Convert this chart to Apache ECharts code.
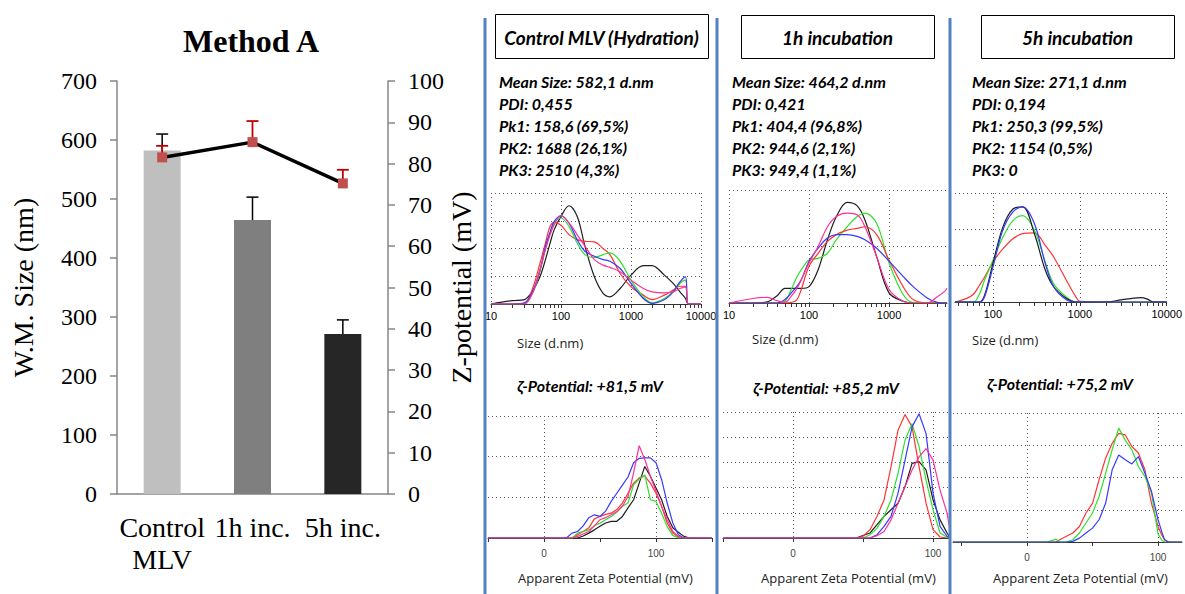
<!DOCTYPE html>
<html><head><meta charset="utf-8">
<script src="https://cdn.jsdelivr.net/npm/echarts@6/dist/echarts.min.js"></script>
<style>html,body{margin:0;padding:0;background:#fff}#c{width:1185px;height:594px}</style>
</head><body><div id="c"></div>
<script>
// ---------------- DATA ----------------
const categories = ['Control\nMLV', '1h inc.', '5h inc.'];
const sizeMean = [582.1, 464.2, 271.1];
const sizeErr = [28, 39, 24];
const zetaMean = [81.5, 85.2, 75.2];
const zetaErr = [2.8, 5.1, 3.3];
const barColors = ['#bfbfbf', '#7f7f7f', '#262626'];

const panelTitles = ['Control MLV (Hydration)', '1h incubation', '5h incubation'];
const stats1 = ['Mean Size: 582,1 d.nm', 'PDI: 0,455', 'Pk1: 158,6 (69,5%)', 'PK2: 1688 (26,1%)', 'PK3: 2510 (4,3%)'];
const stats2 = ['Mean Size: 464,2 d.nm', 'PDI: 0,421', 'Pk1: 404,4 (96,8%)', 'PK2: 944,6 (2,1%)', 'PK3: 949,4 (1,1%)'];
const stats3 = ['Mean Size: 271,1 d.nm', 'PDI: 0,194', 'Pk1: 250,3 (99,5%)', 'PK2: 1154 (0,5%)', 'PK3: 0'];
const zetaTitles = ['ζ-Potential: +81,5 mV', 'ζ-Potential: +85,2 mV', 'ζ-Potential: +75,2 mV'];
const sizeAxisName = 'Size (d.nm)';
const zetaAxisName = 'Apparent Zeta Potential (mV)';

// Size distributions (intensity, arbitrary units) - panel 1
const p1Sizes = [10, 20, 30, 40, 50, 60, 70, 80, 100, 130, 170, 220, 300, 400, 500, 700, 1000, 1500, 2000, 3000, 4000, 5000, 6000, 6600, 10000];
const p1Black = [0, 0.6, 0.8, 2.5, 4.9, 8, 11, 13.4, 15.8, 17.7, 15.8, 10.4, 4.9, 1.9, 1.3, 2.8, 5.2, 6.9, 6.9, 5.2, 3.7, 2.2, 1.0, 0, 0];
const p1Red   = [0, 0, 0.1, 3.1, 7.3, 11, 14, 14.7, 14.2, 12.5, 11.6, 11.3, 11.2, 10, 8.9, 5.5, 3.1, 1.6, 0.8, 1.6, 2.5, 3.2, 3.2, 0, 0];
const p1Green = [0, 0, 0.1, 2.2, 5.8, 10, 12.8, 14.6, 15.5, 14, 11, 8.9, 8.4, 8.9, 9.2, 7.7, 4.3, 1.3, 0.2, 1, 2.2, 3.7, 4.3, 0, 0];
const p1Blue  = [0, 0, 0.2, 2.5, 6.1, 10.4, 13, 14.9, 15.9, 14.6, 11.6, 9.5, 8.6, 8, 7.7, 6.4, 3.7, 1, 0.1, 0.8, 2.2, 4, 4.9, 0, 0];
const p1Pink  = [0, 0, 0, 2.2, 6.1, 9.8, 12.5, 14.3, 15.9, 14.6, 12.5, 10.4, 8, 7, 6.6, 5.8, 4.3, 2.8, 2.2, 2, 2.2, 2.8, 3.1, 0, 0];

// panel 2
const p2Sizes = [10, 20, 30, 40, 50, 60, 70, 80, 100, 130, 170, 220, 300, 400, 500, 700, 1000, 1500, 2000, 3000, 4000, 5000, 5300];
const p2Black = [0, 0, 0.2, 1.3, 2.6, 2.6, 2.6, 2.6, 2.9, 5.9, 11.2, 15.3, 17.8, 17.2, 14.7, 8.2, 1.8, 0.3, 0, 0, 0, 0, 0];
const p2Green = [0, 0, 0, 0, 0.3, 2.4, 4.5, 5.9, 7.6, 7.9, 8.8, 11.2, 13.5, 15.3, 15.9, 14.1, 7.1, 1.5, 0.1, 0, 0, 0, 0];
const p2Red   = [0, 0, 0, 0, 0, 0.1, 0.5, 2.4, 6.5, 8.8, 10.9, 12.1, 12.9, 13.2, 13.5, 12.1, 7.6, 2.9, 0.6, 0, 0, 0, 0];
const p2Blue  = [0, 0, 0, 0, 0.6, 1.8, 2.9, 4.1, 7.4, 9.7, 11.5, 12.1, 12.1, 11.8, 11.2, 9.7, 7.4, 4.7, 2.9, 0.9, 0.1, 0, 0];
const p2Pink  = [0, 0.8, 1.0, 0.4, 0.1, 1.2, 2.5, 4.1, 7.1, 10, 13.5, 15.3, 15.9, 15.6, 13.5, 8.2, 2.4, 0.3, 0, 0, 1.1, 2.1, 2.6];

// panel 3
const p3Sizes = [36.6, 50, 60, 70, 80, 100, 130, 170, 220, 300, 400, 500, 700, 900, 1000, 2000, 3000, 4000, 5000, 6000, 7000, 10000];
const p3Red   = [0, 0.5, 1.1, 2.3, 3.4, 5.5, 7.3, 8.7, 9.4, 9.5, 7.8, 6.2, 3.0, 0.7, 0.1, 0, 0, 0, 0, 0, 0, 0];
const p3Green = [0, 0, 0, 1.1, 3, 5.7, 8.9, 11.2, 11.9, 9.9, 5.5, 2.5, 0.7, 0, 0, 0, 0, 0, 0, 0, 0, 0];
const p3Black = [0, 0, 0, 0, 0.9, 5.3, 10.3, 12.8, 13.1, 9.4, 4.4, 2.1, 0.5, 0, 0, 0, 0.3, 0.5, 0.6, 0.4, 0, 0];
const p3Blue  = [0, 0, 0, 0, 0.7, 4.8, 9.9, 12.4, 13.1, 10.8, 5.3, 2.1, 0.3, 0, 0, 0, 0, 0, 0, 0, 0, 0];

// Zeta potential distributions - panel 1
const z1Mv    = [-50, 15, 20, 25, 30, 35, 40, 45, 50, 55, 60, 65, 70, 75, 80, 85, 90, 95, 100, 105, 110, 115, 120, 125, 130, 135, 150];
const z1Black = [0, 0, 0, 0, 0, 0.05, 0.12, 0.2, 0.29, 0.37, 0.41, 0.41, 0.53, 0.74, 0.94, 1.35, 1.76, 1.52, 1.23, 0.94, 0.53, 0.25, 0.14, 0.04, 0, 0, 0];
const z1Red   = [0, 0, 0, 0, 0.08, 0.16, 0.25, 0.47, 0.53, 0.58, 0.61, 0.7, 0.86, 1.1, 1.35, 1.48, 1.52, 1.35, 1.1, 0.78, 0.37, 0.12, 0.02, 0, 0, 0, 0];
const z1Green = [0, 0, 0, 0, 0.12, 0.16, 0.2, 0.3, 0.37, 0.45, 0.53, 0.63, 0.78, 0.86, 1.31, 1.45, 1.55, 0.94, 0.9, 0.61, 0.28, 0.06, 0, 0, 0, 0, 0];
const z1Blue  = [0, 0, 0, 0.12, 0.16, 0.3, 0.5, 0.57, 0.53, 0.66, 0.9, 1.1, 1.3, 1.5, 1.85, 1.96, 1.97, 1.97, 1.85, 1.44, 0.86, 0.37, 0.08, 0, 0, 0, 0];
const z1Pink  = [0, 0, 0, 0, 0.04, 0.1, 0.16, 0.3, 0.45, 0.5, 0.57, 0.65, 0.78, 1.02, 1.6, 2.27, 1.93, 1.52, 1.15, 0.78, 0.45, 0.16, 0.04, 0, 0, 0, 0];

// panel 2
const z2Mv    = [-50, 40, 45, 50, 55, 60, 65, 70, 75, 80, 85, 90, 95, 100, 105, 110, 112.1];
const z2Black = [0, 0, 0, 0.1, 0.2, 0.53, 0.86, 1.12, 1.38, 2.04, 2.96, 3.03, 2.7, 1.51, 0.72, 0.2, 0];
const z2Red   = [0, 0, 0, 0.07, 0.33, 0.86, 1.51, 2.83, 4.28, 4.9, 4.41, 2.83, 1.38, 0.33, 0.04, 0, 0];
const z2Green = [0, 0, 0, 0, 0.13, 0.39, 0.86, 1.51, 2.57, 3.88, 4.54, 3.62, 2.3, 1.12, 0.2, 0.03, 0];
const z2Blue  = [0, 0, 0, 0, 0, 0.13, 0.46, 0.86, 1.78, 3.09, 4.41, 4.93, 4.14, 1.78, 0.46, 0.07, 0];
const z2Pink  = [0, 0, 0, 0, 0, 0.09, 0.26, 0.72, 1.38, 2.04, 2.7, 3.22, 3.55, 3.09, 1.9, 0.99, 0.3];

// panel 3
const z3Mv    = [-56.5, 15, 20, 22, 25, 30, 35, 40, 45, 50, 55, 60, 65, 70, 75, 80, 85, 90, 95, 100, 103, 105, 108, 118.3];
const z3Red   = [0, 0, 0, 0, 0.07, 0.18, 0.28, 0.48, 0.9, 1.2, 1.93, 2.6, 3.06, 3.37, 3.32, 2.96, 2.76, 2.24, 1.2, 0.48, 0.2, 0.07, 0, 0];
const z3Green = [0, 0, 0.06, 0.09, 0, 0, 0.07, 0.28, 0.59, 0.9, 1.41, 2.13, 2.86, 3.53, 3.16, 2.86, 2.34, 2.03, 1.52, 0.25, 0.05, 0, 0, 0];
const z3Blue  = [0, 0, 0, 0, 0, 0, 0.02, 0.12, 0.28, 0.43, 0.69, 1.2, 2.24, 2.7, 2.55, 2.42, 2.65, 2.13, 1.57, 0.69, 0.3, 0.07, 0, 0];

// ---------------- STYLE / LAYOUT ----------------
const C = { black: '#1e1e1e', red: '#ff3434', green: '#2fe02f', blue: '#3838ff', pink: '#ff2f98' };
const serif = 'Liberation Serif';
const dotted = { type: [1, 3], color: '#555', width: 1 };

function pairs(xs, ys) { return xs.map((x, i) => [x, ys[i]]); }
function logTicks(lo, hi) {
  const out = [];
  for (let e = 1; e <= 4; e++) for (let d = 1; d <= 9; d++) {
    const v = d * Math.pow(10, e); if (v >= lo - 1e-9 && v <= hi + 1e-9) out.push(v);
  }
  return out;
}

const xAxes = [], yAxes = [], grids = [], series = [];

// Left chart
grids.push({ left: 117, top: 81, width: 271, height: 413 });
xAxes.push({
  type: 'category', gridIndex: 0, data: categories,
  axisLine: { lineStyle: { color: '#868686', width: 1.5 } },
  axisTick: { show: false },
  axisLabel: { interval: 0, fontFamily: serif, fontSize: 28, lineHeight: 32, color: '#000', margin: 17 }
});
yAxes.push({
  type: 'value', gridIndex: 0, min: 0, max: 700, interval: 100, position: 'left',
  name: 'W.M. Size (nm)', nameLocation: 'middle', nameGap: 80,
  nameTextStyle: { fontFamily: serif, fontSize: 28, color: '#000' },
  axisLine: { show: true, lineStyle: { color: '#868686', width: 1.5 } },
  axisTick: { show: true, length: 7, lineStyle: { color: '#868686', width: 1.5 } },
  axisLabel: { fontFamily: serif, fontSize: 24, color: '#000', margin: 20 },
  splitLine: { show: false }
});
yAxes.push({
  type: 'value', gridIndex: 0, min: 0, max: 100, interval: 10, position: 'right',
  name: 'Z-potential (mV)', nameLocation: 'middle', nameGap: 49,
  nameTextStyle: { fontFamily: serif, fontSize: 28, color: '#000' },
  axisLine: { show: true, lineStyle: { color: '#868686', width: 1.5 } },
  axisTick: { show: true, length: 7, lineStyle: { color: '#868686', width: 1.5 } },
  axisLabel: { fontFamily: serif, fontSize: 24, color: '#000', margin: 20 },
  splitLine: { show: false }
});

function errRender(color, capW, lw) {
  return function (params, api) {
    const x = api.value(0), v = api.value(1), e = api.value(2);
    const p0 = api.coord([x, v]); const p1 = api.coord([x, v + e]);
    return { type: 'group', children: [
      { type: 'line', shape: { x1: p0[0], y1: p0[1], x2: p1[0], y2: p1[1] }, style: { stroke: color, lineWidth: lw } },
      { type: 'line', shape: { x1: p1[0] - capW / 2, y1: p1[1], x2: p1[0] + capW / 2, y2: p1[1] }, style: { stroke: color, lineWidth: lw } }
    ] };
  };
}

series.push({
  type: 'bar', xAxisIndex: 0, yAxisIndex: 0, barWidth: 37, z: 2,
  data: sizeMean.map((v, i) => ({ value: v, itemStyle: { color: barColors[i] } }))
});
series.push({
  type: 'custom', xAxisIndex: 0, yAxisIndex: 0, z: 3, renderItem: errRender('#000', 12, 1.5),
  encode: { x: 0, y: 1 }, data: categories.map((c, i) => [i, sizeMean[i], sizeErr[i]])
});
series.push({
  type: 'custom', xAxisIndex: 0, yAxisIndex: 1, z: 4, renderItem: errRender('#c00000', 12, 1.8),
  encode: { x: 0, y: 1 }, data: categories.map((c, i) => [i, zetaMean[i], zetaErr[i]])
});
series.push({
  type: 'line', xAxisIndex: 0, yAxisIndex: 1, z: 5, data: zetaMean,
  symbol: 'rect', symbolSize: 10, itemStyle: { color: '#c0504d' },
  lineStyle: { color: '#000', width: 3.5 }
});

// small panels
const sizePanels = [
  { grid: { left: 491, top: 193, width: 210, height: 111 }, min: 10, max: 10000, ymax: 20, yint: 5,
    sizes: p1Sizes, lines: [[p1Black, C.black], [p1Red, C.red], [p1Green, C.green], [p1Blue, C.blue], [p1Pink, C.pink]] },
  { grid: { left: 729, top: 190, width: 218, height: 113 }, min: 10, max: 5300, ymax: 20, yint: 10,
    sizes: p2Sizes, lines: [[p2Black, C.black], [p2Green, C.green], [p2Red, C.red], [p2Blue, C.blue], [p2Pink, C.pink]] },
  { grid: { left: 955, top: 193, width: 213, height: 109 }, min: 36.6, max: 10000, ymax: 15, yint: 5,
    sizes: p3Sizes, lines: [[p3Red, C.red], [p3Green, C.green], [p3Black, C.black], [p3Blue, C.blue]] }
];
const zetaPanels = [
  { grid: { left: 488, top: 416, width: 224, height: 122 }, min: -50, max: 150, ymax: 3, ticks: [-50, 0, 50, 100, 150],
    mv: z1Mv, lines: [[z1Black, C.black], [z1Red, C.red], [z1Green, C.green], [z1Blue, C.blue], [z1Pink, C.pink]] },
  { grid: { left: 723, top: 412, width: 227, height: 126 }, min: -50, max: 112.1, ymax: 5, ticks: [-50, 0, 50, 100],
    mv: z2Mv, lines: [[z2Black, C.black], [z2Red, C.red], [z2Green, C.green], [z2Blue, C.blue], [z2Pink, C.pink]] },
  { grid: { left: 953, top: 413, width: 229, height: 129 }, min: -56.5, max: 118.3, ymax: 4, ticks: [-50, 0, 50, 100],
    mv: z3Mv, lines: [[z3Red, C.red], [z3Green, C.green], [z3Blue, C.blue]] }
];

function addPanel(p, isLog) {
  const gi = grids.length;
  grids.push(p.grid);
  const xi = xAxes.length;
  const majors = isLog ? [10, 100, 1000, 10000].filter(v => v >= p.min && v <= p.max + 1) : [0, 100];
  xAxes.push({
    type: isLog ? 'log' : 'value', logBase: 10, gridIndex: gi, position: 'bottom', min: p.min, max: p.max,
    axisLine: { show: true, onZero: false, lineStyle: { color: '#333', width: 1 } },
    axisTick: { show: false, customValues: majors },
    axisLabel: {
      customValues: majors, margin: isLog ? 6 : 10, fontFamily: 'Liberation Sans', fontSize: isLog ? 11 : 10,
      color: isLog ? '#000' : '#444', formatter: v => String(Math.round(v))
    },
    splitLine: { show: true, lineStyle: dotted }
  });
  xAxes.push({
    type: isLog ? 'log' : 'value', logBase: 10, gridIndex: gi, position: 'bottom', min: p.min, max: p.max,
    axisLine: { show: false, onZero: false },
    axisTick: { show: true, length: 4, customValues: isLog ? logTicks(p.min, p.max) : p.ticks, lineStyle: { color: '#333', width: 1 } },
    axisLabel: { show: false }, splitLine: { show: false }
  });
  const yi = yAxes.length;
  yAxes.push({
    type: 'value', gridIndex: gi, min: 0, max: p.ymax, interval: p.yint || 1,
    axisLine: { show: false }, axisTick: { show: false }, axisLabel: { show: false },
    splitLine: { show: true, lineStyle: dotted }
  });
  const xs = isLog ? p.sizes : p.mv;
  p.lines.forEach(([ys, col]) => {
    series.push({
      type: 'line', xAxisIndex: xi, yAxisIndex: yi, data: pairs(xs, ys),
      showSymbol: false, smooth: isLog ? 0.35 : false, silent: true,
      lineStyle: { color: col, width: 1.2 }, z: 3
    });
  });
}
sizePanels.forEach(p => addPanel(p, true));
zetaPanels.forEach(p => addPanel(p, false));

// ---------------- GRAPHIC (texts, boxes, separators) ----------------
const sepX = [485, 717, 950];
const boxes = [
  { x: 495, y: 14, w: 213, h: 44 }, { x: 741, y: 15, w: 193, h: 43 }, { x: 981, y: 15, w: 193, h: 43 }
];
const statsX = [499, 732, 972];
const statsTexts = [stats1, stats2, stats3];
const zetaTitleX = [590, 826, 1060];
const zetaTitleY = [385, 387, 383];
const sizeNameX = [517, 752, 972];
const sizeNameY = [343, 339, 340];
const zetaNameX = [518, 761, 993];

function txt(text, x, y, font, align, valign, fill) {
  return { type: 'text', z: 100, silent: true, style: {
    text, x, y, font, fill: fill || '#000',
    align, verticalAlign: valign, textAlign: align, textVerticalAlign: valign
  } };
}
const graphics = [];
graphics.push(txt('Method A', 251, 41, 'bold 32px "Liberation Serif"', 'center', 'middle'));
sepX.forEach(x => graphics.push({ type: 'line', z: 110, silent: true,
  shape: { x1: x, y1: 18, x2: x, y2: 594 }, style: { stroke: '#5282c2', lineWidth: 3 } }));
boxes.forEach((b, i) => {
  graphics.push({ type: 'rect', z: 100, silent: true, shape: { x: b.x + 0.5, y: b.y + 0.5, width: b.w, height: b.h },
    style: { fill: '#fff', stroke: '#000', lineWidth: 1 } });
  graphics.push(txt(panelTitles[i], b.x + b.w / 2, b.y + b.h / 2 + 1, 'italic bold 19px Lato', 'center', 'middle'));
  graphics.push({ type: 'text', z: 100, silent: true, style: {
    text: statsTexts[i].join('\n'), x: statsX[i], y: 70, font: 'italic bold 16px Lato', lineHeight: 22, fill: '#000',
    align: 'left', verticalAlign: 'top', textAlign: 'left', textVerticalAlign: 'top' } });
  graphics.push(txt(zetaTitles[i], zetaTitleX[i], zetaTitleY[i], 'italic bold 16px Lato', 'center', 'middle'));
  graphics.push(txt(sizeAxisName, sizeNameX[i], sizeNameY[i], '13px "Open Sans"', 'left', 'middle', '#222'));
  graphics.push(txt(zetaAxisName, zetaNameX[i], 578, '13px "Open Sans"', 'left', 'middle', '#222'));
});

const chart = echarts.init(document.getElementById('c'), null, { renderer: 'svg', width: 1185, height: 594 });
chart.setOption({
  animation: false,
  backgroundColor: '#fff',
  grid: grids, xAxis: xAxes, yAxis: yAxes, series: series,
  graphic: { elements: graphics }
});
</script></body></html>
